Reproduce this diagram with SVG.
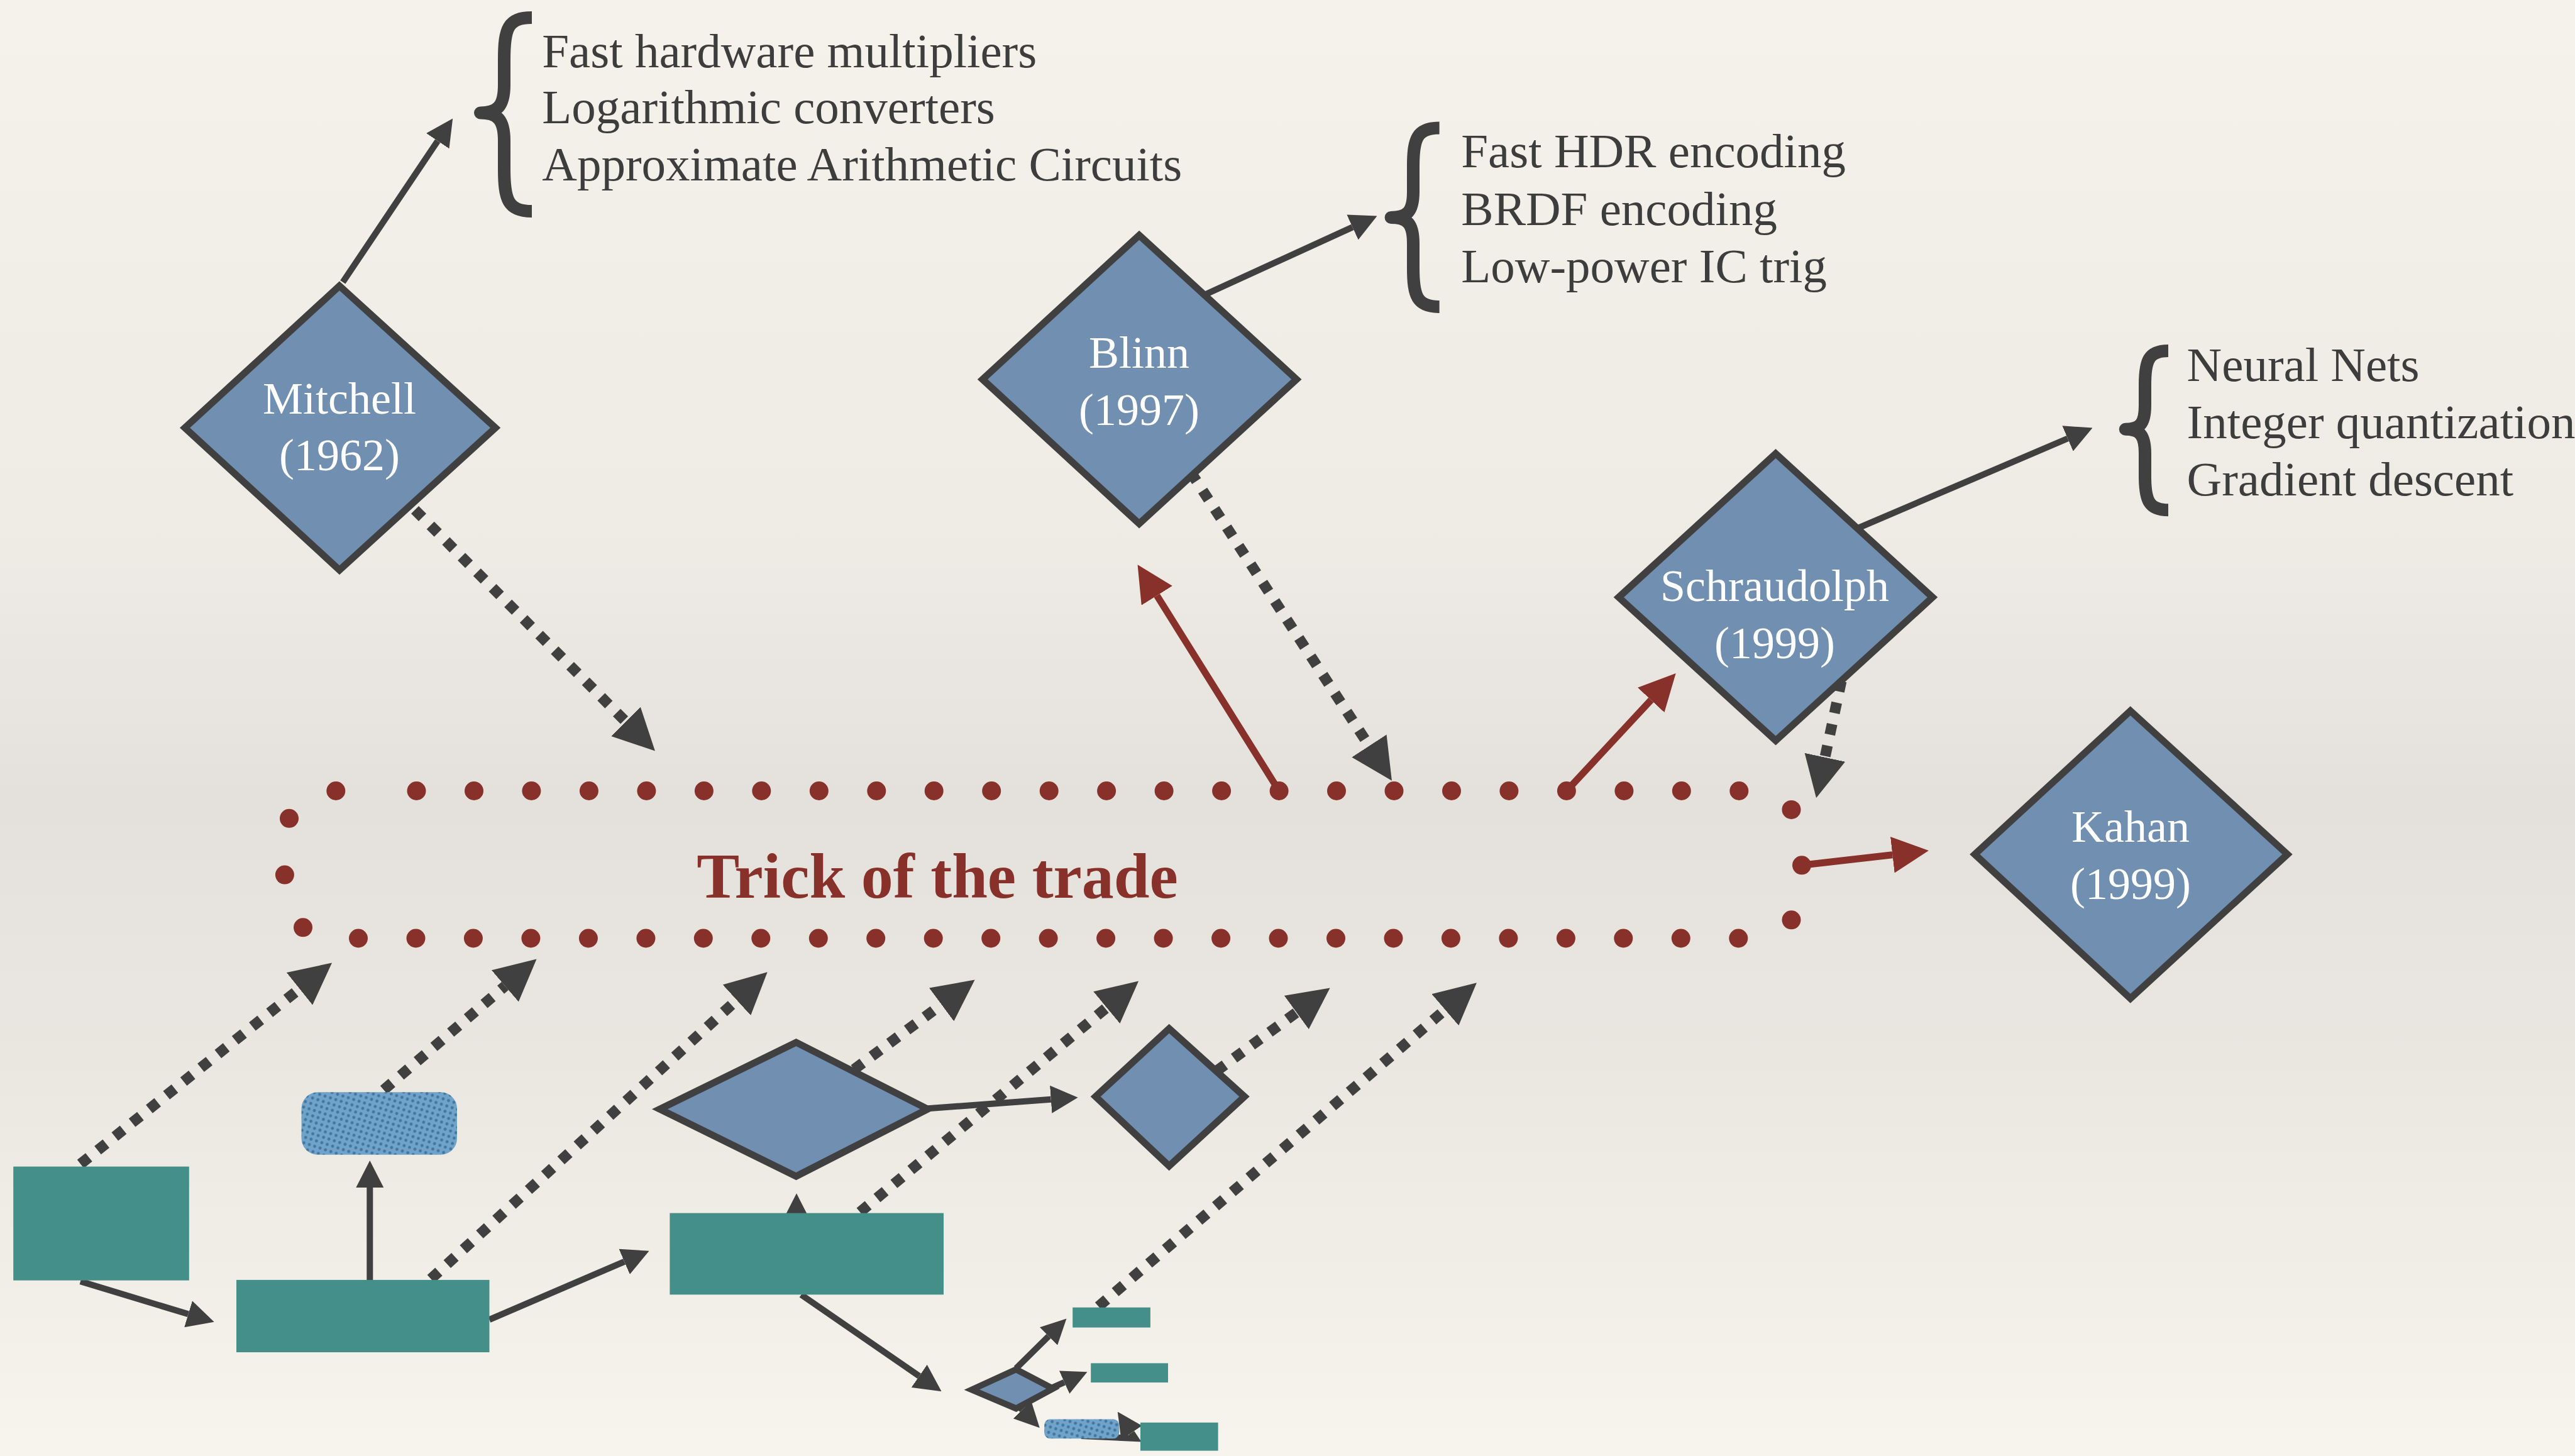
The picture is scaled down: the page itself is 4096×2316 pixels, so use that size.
<svg xmlns="http://www.w3.org/2000/svg" width="4096" height="2316" viewBox="0 0 4096 2316">
<defs>
<linearGradient id="bg" x1="0" y1="0" x2="0" y2="1">
<stop offset="0" stop-color="#F5F2EC"/>
<stop offset="0.38" stop-color="#EEEBE5"/>
<stop offset="0.55" stop-color="#E4E1DC"/>
<stop offset="0.72" stop-color="#EAE7E1"/>
<stop offset="1" stop-color="#F7F4ED"/>
</linearGradient>
<pattern id="hatch" width="9" height="9" patternUnits="userSpaceOnUse" patternTransform="rotate(18)">
<rect width="9" height="9" fill="#6FA3CA"/>
<circle cx="4.5" cy="4.5" r="2.4" fill="#44759C"/>
</pattern>
<marker id="ahB" markerUnits="userSpaceOnUse" markerWidth="43" markerHeight="44" refX="0" refY="22" orient="auto" viewBox="0 0 43 44">
<path d="M0,0 L43,22 L0,44 z" fill="#404040"/>
</marker>
<marker id="ahS" markerUnits="userSpaceOnUse" markerWidth="40" markerHeight="40" refX="0" refY="20" orient="auto" viewBox="0 0 40 40">
<path d="M0,0 L40,20 L0,40 z" fill="#404040"/>
</marker>
<marker id="ahD" markerUnits="userSpaceOnUse" markerWidth="66" markerHeight="66" refX="0" refY="33" orient="auto" viewBox="0 0 66 66">
<path d="M0,0 L66,33 L0,66 z" fill="#404040"/>
</marker>
<marker id="ahR" markerUnits="userSpaceOnUse" markerWidth="58" markerHeight="58" refX="0" refY="29" orient="auto" viewBox="0 0 58 58">
<path d="M0,0 L58,29 L0,58 z" fill="#88302A"/>
</marker>
<style>
.dia{fill:#718FB1;stroke:#404040;stroke-width:11;stroke-linejoin:miter}
.teal{fill:#448F8A}
.hat{fill:url(#hatch)}
.lbl{font-family:"Liberation Serif","Times New Roman",serif;font-size:72px;fill:#FFFFFF;text-anchor:middle}
.lst{font-family:"Liberation Serif","Times New Roman",serif;font-size:77px;fill:#3D3D3D}
.ttl{font-family:"Liberation Serif","Times New Roman",serif;font-size:102px;font-weight:bold;fill:#88302A;text-anchor:middle}
.brace{fill:none;stroke:#404040;stroke-width:20;stroke-linejoin:round}
.sol{fill:none;stroke:#404040;stroke-width:10;marker-end:url(#ahB)}
.sml{fill:none;stroke:#404040;stroke-width:10;marker-end:url(#ahS)}
.dot{fill:none;stroke:#404040;stroke-width:17;stroke-dasharray:17 18;marker-end:url(#ahD)}
.red{fill:none;stroke:#88302A;stroke-width:11;marker-end:url(#ahR)}
.rd{fill:#88302A}
</style>
</defs>
<rect width="4096" height="2316" fill="url(#bg)"/>

<g id="connectors">
<path class="sol" d="M545.3,448.8 L696.2,224.2"/>
<path class="sol" d="M1913.8,470 L2151.4,361.4"/>
<path class="sol" d="M2957,839.3 L3289,697.5"/>
<path class="sol" d="M128,2038.3 L299.5,2090.3"/>
<path class="sol" d="M588.3,2036 L588.3,1889"/>
<path class="sol" d="M778.4,2099.2 L993.1,2006.8"/>
<path class="sol" d="M1267,1990 L1267,1941.3"/>
<path class="sol" d="M1475.9,1763.2 L1671.7,1748.8"/>
<path class="sol" d="M1274.5,2059.5 L1462.2,2188.9"/>
<path class="sml" d="M1616.4,2176.5 L1668,2125.5"/>
<path class="sml" d="M1666,2210.8 L1693,2198.7"/>
<path class="sml" d="M1612,2228 L1626,2242.5"/>
<path class="sml" d="M1720,2284 L1806,2288 L1800,2279"/>
<path class="dot" d="M660,811 L995.4,1147.8"/>
<path class="dot" d="M1894,751 L2177.9,1186.4"/>
<path class="dot" d="M2929,1083.4 L2902.9,1204.7"/>
<path class="dot" d="M128.1,1851.5 L476.5,1572.8"/>
<path class="dot" d="M610.4,1733.6 L803.4,1568.4"/>
<path class="dot" d="M685.4,2034.3 L1171.9,1590.8"/>
<path class="dot" d="M1358.6,1701 L1497.6,1597.9"/>
<path class="dot" d="M1368,1928 L1760.3,1602.7"/>
<path class="dot" d="M1934.7,1703.8 L2062.3,1610.5"/>
<path class="dot" d="M1747.4,2078.1 L2298.8,1606.2"/>
<path class="red" d="M2034.6,1258 L1840.3,947.4"/>
<path class="red" d="M2491.9,1258 L2626.2,1113.5"/>
<path class="red" d="M2866,1376.3 L3010.3,1359.7"/>
</g>

<g id="trick-region">
<g class="rd">
<circle cx="534.3" cy="1258" r="15"/>
<circle cx="662.5" cy="1258" r="15"/><circle cx="754.0" cy="1258" r="15"/><circle cx="845.4" cy="1258" r="15"/><circle cx="936.9" cy="1258" r="15"/><circle cx="1028.4" cy="1258" r="15"/><circle cx="1119.9" cy="1258" r="15"/><circle cx="1211.3" cy="1258" r="15"/><circle cx="1302.8" cy="1258" r="15"/><circle cx="1394.3" cy="1258" r="15"/><circle cx="1485.7" cy="1258" r="15"/><circle cx="1577.2" cy="1258" r="15"/><circle cx="1668.7" cy="1258" r="15"/><circle cx="1760.1" cy="1258" r="15"/><circle cx="1851.6" cy="1258" r="15"/><circle cx="1943.1" cy="1258" r="15"/><circle cx="2034.6" cy="1258" r="15"/><circle cx="2126.0" cy="1258" r="15"/><circle cx="2217.5" cy="1258" r="15"/><circle cx="2309.0" cy="1258" r="15"/><circle cx="2400.4" cy="1258" r="15"/><circle cx="2491.9" cy="1258" r="15"/><circle cx="2583.4" cy="1258" r="15"/><circle cx="2674.8" cy="1258" r="15"/><circle cx="2766.3" cy="1258" r="15"/>
<circle cx="570.0" cy="1492.5" r="15"/><circle cx="661.5" cy="1492.5" r="15"/><circle cx="752.9" cy="1492.5" r="15"/><circle cx="844.4" cy="1492.5" r="15"/><circle cx="935.9" cy="1492.5" r="15"/><circle cx="1027.4" cy="1492.5" r="15"/><circle cx="1118.8" cy="1492.5" r="15"/><circle cx="1210.3" cy="1492.5" r="15"/><circle cx="1301.8" cy="1492.5" r="15"/><circle cx="1393.2" cy="1492.5" r="15"/><circle cx="1484.7" cy="1492.5" r="15"/><circle cx="1576.2" cy="1492.5" r="15"/><circle cx="1667.6" cy="1492.5" r="15"/><circle cx="1759.1" cy="1492.5" r="15"/><circle cx="1850.6" cy="1492.5" r="15"/><circle cx="1942.1" cy="1492.5" r="15"/><circle cx="2033.5" cy="1492.5" r="15"/><circle cx="2125.0" cy="1492.5" r="15"/><circle cx="2216.5" cy="1492.5" r="15"/><circle cx="2307.9" cy="1492.5" r="15"/><circle cx="2399.4" cy="1492.5" r="15"/><circle cx="2490.9" cy="1492.5" r="15"/><circle cx="2582.3" cy="1492.5" r="15"/><circle cx="2673.8" cy="1492.5" r="15"/><circle cx="2765.3" cy="1492.5" r="15"/>
<circle cx="460" cy="1301.8" r="15"/><circle cx="452.9" cy="1391.6" r="15"/><circle cx="482" cy="1475.3" r="15"/>
<circle cx="2849.5" cy="1287.9" r="15"/><circle cx="2866" cy="1376.3" r="15"/><circle cx="2849.5" cy="1463.3" r="15"/>
</g>
<text class="ttl" x="1491" y="1427.6">Trick of the trade</text>
</g>

<g id="mitchell">
<polygon class="dia" points="540,454.8 788.1,680.5 540,906.7 294.1,680.5"/>
<text class="lbl" x="540" y="658.3">Mitchell</text>
<text class="lbl" x="540" y="748.1">(1962)</text>
</g>
<g id="blinn">
<polygon class="dia" points="1812.1,374.1 2062.4,603.4 1812.1,833.1 1562.9,603.4"/>
<text class="lbl" x="1812.1" y="584.9">Blinn</text>
<text class="lbl" x="1812.1" y="676">(1997)</text>
</g>
<g id="schraudolph">
<polygon class="dia" points="2824.6,721.5 3074.1,950.1 2824.6,1178.1 2574.8,950.1"/>
<text class="lbl" x="2823" y="956">Schraudolph</text>
<text class="lbl" x="2823" y="1047">(1999)</text>
</g>
<g id="kahan">
<polygon class="dia" points="3388.8,1130.8 3638.6,1358.9 3388.8,1588.2 3141.2,1358.9"/>
<text class="lbl" x="3389" y="1338.5">Kahan</text>
<text class="lbl" x="3389" y="1429.7">(1999)</text>
</g>

<g id="list-mitchell">
<path class="brace" d="M846,28 C808,28 802,45 802,95 L802,135 C802,168 792,179.5 764,179.5 C792,179.5 802,191 802,224 L802,268 C802,318 808,336 846,336"/>
<text class="lst" x="862.3" y="106.5">Fast hardware multipliers</text>
<text class="lst" x="862.3" y="196.3">Logarithmic converters</text>
<text class="lst" x="862.3" y="287.3">Approximate Arithmetic Circuits</text>
</g>
<g id="list-blinn">
<path class="brace" d="M2289.6,203.6 C2254,203.6 2248,220 2248,265 L2248,305 C2248,336 2239,345.9 2212.6,345.9 C2239,345.9 2248,356 2248,387 L2248,426 C2248,471 2254,488 2289.6,488"/>
<text class="lst" x="2324.3" y="266.3">Fast HDR encoding</text>
<text class="lst" x="2324.3" y="357.6">BRDF encoding</text>
<text class="lst" x="2324.3" y="448.9">Low-power IC trig</text>
</g>
<g id="list-schraudolph">
<path class="brace" d="M3449,558 C3418,558 3412,573 3412,612 L3412,645 C3412,674 3404,682.8 3380.8,682.8 C3404,682.8 3412,692 3412,721 L3412,757 C3412,796 3418,811.3 3449,811.3"/>
<text class="lst" x="3478.6" y="606.2">Neural Nets</text>
<text class="lst" x="3478.6" y="697.4">Integer quantization</text>
<text class="lst" x="3478.6" y="788.4">Gradient descent</text>
</g>

<g id="rect-a"><rect class="teal" x="21.2" y="1855.6" width="279.6" height="181.1"/></g>
<g id="rect-b"><rect class="teal" x="376" y="2035.9" width="402.5" height="115.1"/></g>
<g id="pill-a"><rect class="hat" x="479.5" y="1737.3" width="247.5" height="99.5" rx="26"/></g>
<g id="diamond-c"><polygon class="dia" points="1266.4,1658.1 1475.7,1764.2 1266.4,1871.1 1049.4,1764.2"/></g>
<g id="rect-d"><rect class="teal" x="1065.4" y="1929.6" width="435.6" height="129.7"/></g>
<g id="diamond-e"><polygon class="dia" points="1859.7,1636.1 1979.6,1744.3 1859.7,1854.8 1742.7,1744.3"/></g>
<g id="diamond-small"><polygon class="dia" style="stroke-width:10" points="1616.3,2178.3 1674.9,2208.9 1616.3,2240.4 1545.9,2210.5"/></g>
<g id="rect-f"><rect class="teal" x="1706.2" y="2079.7" width="123.7" height="31.9"/></g>
<g id="rect-g"><rect class="teal" x="1735.2" y="2168.4" width="122.8" height="30.7"/></g>
<g id="pill-b"><rect class="hat" x="1661.2" y="2257.5" width="119" height="30.7" rx="9"/></g>
<g id="rect-h"><rect class="teal" x="1814" y="2262.8" width="123.6" height="44.8"/></g>
</svg>
